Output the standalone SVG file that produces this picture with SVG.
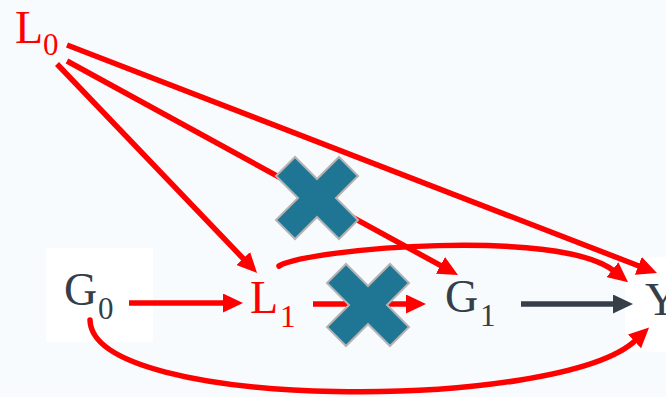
<svg xmlns="http://www.w3.org/2000/svg" width="666" height="397" viewBox="0 0 666 397">
  <style>
    .lbl { font-family: "Liberation Serif", "Times New Roman", serif; font-size: 46px; }
    .sub { font-size: 31px; }
    .red { fill: #ff0000; }
    .dark { fill: #363e48; }
    .edge { fill: none; stroke: #ff0000; stroke-width: 5.5; }
    .edge-dark { fill: none; stroke: #363e48; stroke-width: 5.5; }
    .cross { fill: #1f7594; stroke: #b3b3b3; stroke-width: 2; stroke-linejoin: miter; }
    .panel { fill: #ffffff; }
  </style>
  <defs>
    <marker id="head-red" markerUnits="userSpaceOnUse" markerWidth="20" markerHeight="19" refX="2" refY="9.5" orient="auto">
      <path d="M0,0 L20,9.5 L0,19 Z" fill="#ff0000"/>
    </marker>
    <marker id="head-dark" markerUnits="userSpaceOnUse" markerWidth="20" markerHeight="19" refX="2" refY="9.5" orient="auto">
      <path d="M0,0 L20,9.5 L0,19 Z" fill="#363e48"/>
    </marker>
    <polygon id="cross-shape" points="0,-19 22,-41 41,-22 19,0 41,22 22,41 0,19 -22,41 -41,22 -19,0 -41,-22 -22,-41"/>
  </defs>

  <rect width="666" height="397" fill="#f7fbfd"/>

  <!-- white panels behind G0 and Y -->
  <rect class="panel" x="46" y="248" width="107" height="94"/>
  <rect class="panel" x="625" y="257" width="41" height="95"/>

  <g id="connectors">
    <path class="edge" d="M57,64 L244.6,260" marker-end="url(#head-red)"/>
    <path class="edge" d="M67,61 L442.2,266.4" marker-end="url(#head-red)"/>
    <path class="edge" d="M67,45 L640.2,266.5" marker-end="url(#head-red)"/>
    <path class="edge" d="M129,303 L225,303" marker-end="url(#head-red)"/>
    <path class="edge" d="M313,304 L408,304" marker-end="url(#head-red)"/>
    <path class="edge-dark" d="M521,304 L615,304" marker-end="url(#head-dark)"/>
    <path class="edge" stroke-linecap="round" d="M279,266 C310,248 560,228 614,271" marker-end="url(#head-red)"/>
    <path class="edge" stroke-linecap="round" d="M90,320 C92,412 560,412 636,340" marker-end="url(#head-red)"/>
  </g>

  <!-- crosses marking removed paths -->
  <g id="cross-L0-G1">
    <use href="#cross-shape" class="cross" x="317" y="198"/>
  </g>
  <g id="cross-L1-G1">
    <use href="#cross-shape" class="cross" x="368" y="305"/>
  </g>

  <g id="node-L0">
    <text class="lbl red"><tspan x="15" y="43">L</tspan><tspan class="sub" x="43" y="55">0</tspan></text>
  </g>
  <g id="node-G0">
    <text class="lbl dark"><tspan x="64" y="305">G</tspan><tspan class="sub" x="98" y="319">0</tspan></text>
  </g>
  <g id="node-L1">
    <text class="lbl red"><tspan x="250" y="313">L</tspan><tspan class="sub" x="280" y="327">1</tspan></text>
  </g>
  <g id="node-G1">
    <text class="lbl dark"><tspan x="445" y="312">G</tspan><tspan class="sub" x="480" y="326">1</tspan></text>
  </g>
  <g id="node-Y">
    <text class="lbl dark"><tspan x="645" y="315">Y</tspan></text>
  </g>
</svg>
